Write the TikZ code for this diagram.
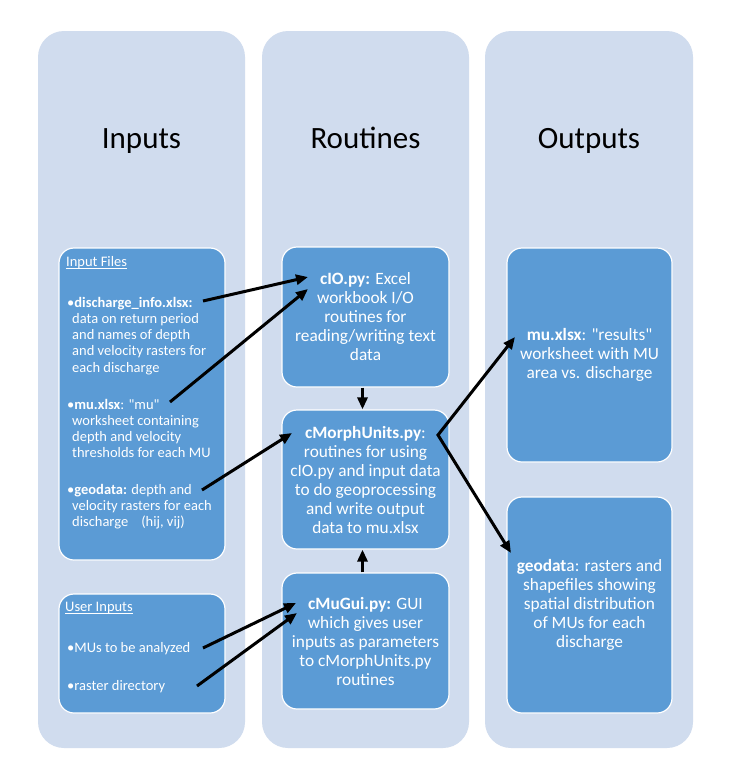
\documentclass[tikz,border=0pt]{standalone}
\usepackage{fontspec}
\setmainfont{Carlito}[Ligatures=TeXOff]
\usetikzlibrary{arrows.meta}
\definecolor{colbg}{RGB}{208,220,238}
\definecolor{boxbg}{RGB}{91,155,213}
\newcommand{\ulword}[1]{\setbox0\hbox{#1}\rlap{\rule[-2.5pt]{\wd0}{0.9pt}}\box0}
\newcommand{\tops}{\rule{0pt}{12pt}}
\begin{document}
\begin{tikzpicture}[x=1pt, y=-1pt, line join=round, >={Triangle[length=12pt,width=10pt]},
	colbox/.style={fill=colbg, rounded corners=26pt, inner sep=0pt, minimum width=207pt, minimum height=717pt},
	blubox/.style={fill=boxbg, draw=white, line width=1.2pt, rounded corners=15pt, inner sep=0pt, text=white, align=center, minimum width=166pt, font=\fontsize{17.3pt}{19pt}\selectfont},
	coltitle/.style={anchor=base, font=\fontsize{31pt}{36pt}\selectfont},
	intext/.style={anchor=north west, inner sep=0pt, text=white, align=left, font=\fontsize{14.5pt}{16.2pt}\selectfont},
	arr/.style={->, line width=3pt, line cap=butt}]
	\useasboundingbox (0,0) rectangle (736,782);
	\fill[white] (0,0) rectangle (736,782);
	% columns
	\node[colbox] (colin) at (141.5,389.5) {};
	\node[colbox] (colrt) at (365.5,389.5) {};
	\node[colbox, minimum width=208pt] (colout) at (589,389.5) {};
	\node[coltitle] (tin) at (141.5,148) {Inputs};
	\node[coltitle] (trt) at (365.5,148) {Routines};
	\node[coltitle] (tout) at (589,148) {Outputs};
	% inputs
	\node[blubox, minimum height=312pt] (infiles) at (142,404) {};
	\node[blubox, minimum height=119pt] (usrbox) at (142,653.5) {};
	\node[intext] (infhead) at (66,254) {\tops\ulword{Input Files}};
	\node[intext] (dis) at (67,295) {\tops•\textbf{discharge\_info.xlsx:}\\
		\hspace*{5pt}data on return period\\ \hspace*{5pt}and names of depth\\
		\hspace*{5pt}and velocity rasters for\\ \hspace*{5pt}each discharge};
	\node[intext] (muin) at (67,397) {\tops•\textbf{mu.xlsx}: "mu"\\
		\hspace*{5pt}worksheet containing\\ \hspace*{5pt}depth and velocity\\
		\hspace*{5pt}thresholds for each MU};
	\node[intext] (geoin) at (67,482) {\tops•\textbf{geodata:} depth and\\
		\hspace*{5pt}velocity rasters for each\\ \hspace*{5pt}discharge\hspace{13pt}(hij, vij)};
	\node[intext] (usrhead) at (65,599) {\tops\ulword{User Inputs}};
	\node[intext] (muser) at (67,640) {\tops•MUs to be analyzed};
	\node[intext] (rasdir) at (67,678) {\tops•raster directory};
	% routines
	\node[blubox, minimum width=167pt, minimum height=140pt] (cio) at (365.5,317)
		{\textbf{cIO.py:} Excel\\workbook I/O\\routines for\\reading/writing text\\data};
	\node[blubox, minimum width=167pt, minimum height=139pt] (morph) at (365.5,479.5)
		{\textbf{cMorphUnits.py}:\\routines for using\\cIO.py and input data\\to do geoprocessing\\and write output\\data to mu.xlsx};
	\node[blubox, minimum width=167pt, minimum height=136pt] (gui) at (365.5,641)
		{\textbf{cMuGui.py:} GUI\\which gives user\\inputs as parameters\\to cMorphUnits.py\\routines};
	% outputs
	\node[blubox, minimum width=165pt, minimum height=214pt] (muout) at (589.5,355)
		{\textbf{mu.xlsx}: "results"\\worksheet with MU\\area vs. discharge};
	\node[blubox, minimum width=165pt, minimum height=216pt] (geoout) at (589.5,605)
		{\textbf{geodat}a: rasters and\\shapefiles showing\\spatial distribution\\of MUs for each\\discharge};
	% arrow ends
	\coordinate (disA) at (203,301); \coordinate (cioA) at (308,277);
	\coordinate (muinA) at (170,402); \coordinate (cioB) at (308,289);
	\coordinate (geoinA) at (202,490); \coordinate (morphA) at (292,433);
	\coordinate (muserA) at (203,648); \coordinate (guiA) at (296,603);
	\coordinate (rasA) at (197,686); \coordinate (guiB) at (297,613);
	\coordinate (split) at (438,435);
	\coordinate (muoutA) at (515,337); \coordinate (geooutA) at (511,553);
	\draw[arr] (disA) -- (cioA);
	\draw[arr] (muinA) -- (cioB);
	\draw[arr] (geoinA) -- (morphA);
	\draw[arr] (muserA) -- (guiA);
	\draw[arr] (rasA) -- (guiB);
	\draw[arr] ([xshift=-3pt]cio.south) -- ([xshift=-3pt]morph.north);
	\draw[arr] ([xshift=-3pt]gui.north) -- ([xshift=-3pt]morph.south);
	\draw[arr, <->, line join=miter] (muoutA) -- (split) -- (geooutA);
\end{tikzpicture}
\end{document}
